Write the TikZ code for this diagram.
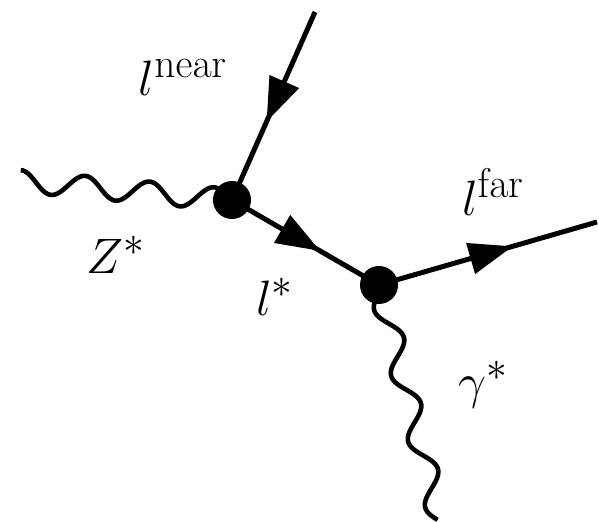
\documentclass[tikz,border=0pt]{standalone}
\usetikzlibrary{arrows.meta,decorations.markings}
\tikzset{
  fermion/.style={line width=2.5pt,
    decoration={markings, mark=at position #1 with {\arrow{Triangle[length=22pt,width=15.5pt]}}},
    postaction={decorate}},
  photon/.style={line width=2.3pt},
  vertex/.style={circle, fill=black, inner sep=0pt, minimum size=19pt},
  lab/.style={font=\fontsize{28}{32}\selectfont, inner sep=0pt}
}
\begin{document}
\begin{tikzpicture}[x=0.5pt,y=-0.5pt]
\useasboundingbox (0,0) rectangle (599,522);
% end points
\coordinate (V1) at (232,200);
\coordinate (V2) at (379,285);
\coordinate (T) at (315,12);
\coordinate (R) at (597,222);
% fermion lines
\draw[fermion=0.584] (T) -- (V1);
\draw[fermion=0.60] (V1) -- (V2);
\draw[fermion=0.614] (V2) -- (R);
% photon Z*
\begin{scope}[shift={(V1)}, rotate=174.9]
  \draw[photon] plot[domain=0:213, samples=150, smooth] (\x, {11*sin(\x/64.7*360 - 15)});
\end{scope}
% photon gamma*
\begin{scope}[shift={(V2)}, rotate=-75.5]
  \draw[photon] plot[domain=0:242, samples=150, smooth] (\x, {11*sin(\x/68*360 - 32)});
\end{scope}
% vertices
\node[vertex] (v1) at (V1) {};
\node[vertex] (v2) at (V2) {};
% labels
\node[lab] (lnear) at (183,78) {$l^{\mathrm{near}}$};
\node[lab] (Z) at (116,255) {$Z^{*}$};
\node[lab] (lstar) at (275,297) {$l^{*}$};
\node[lab] (lfar) at (493,192) {$l^{\mathrm{far}}$};
\node[lab] (gam) at (483,385) {$\gamma^{*}$};
\end{tikzpicture}
\end{document}
